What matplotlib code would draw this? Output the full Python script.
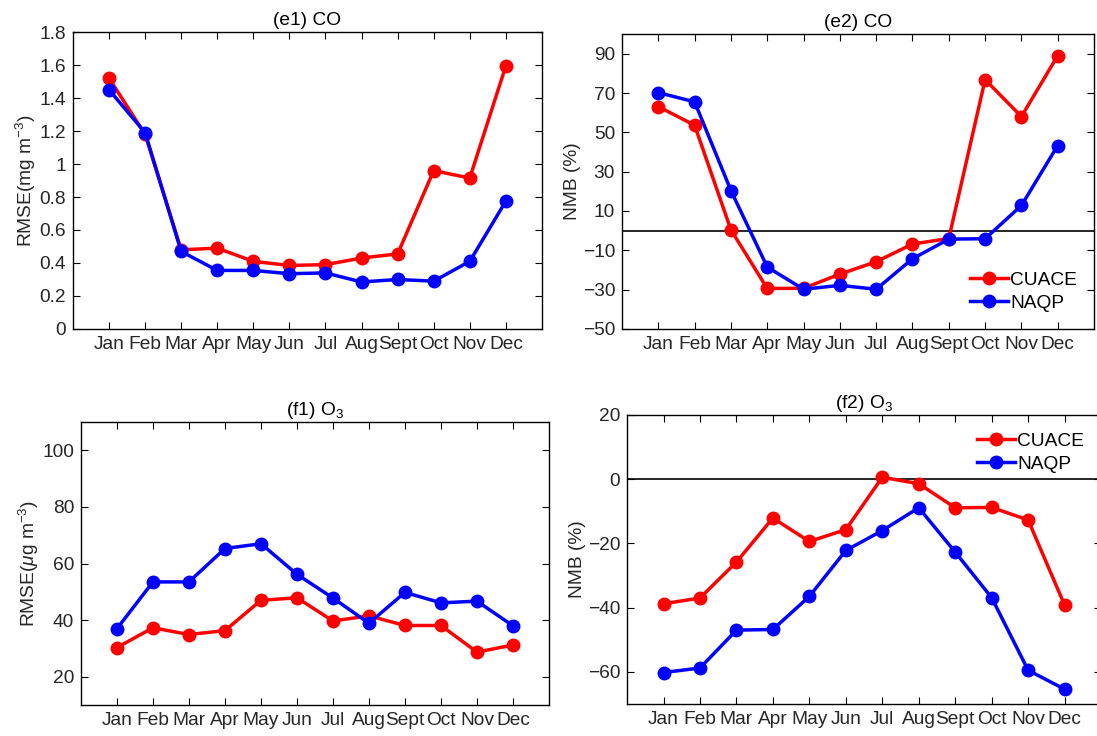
import numpy as np
import matplotlib
matplotlib.use("Agg")
import matplotlib.pyplot as plt

plt.rcParams["font.family"] = ["Liberation Sans", "DejaVu Sans"]
plt.rcParams["mathtext.fontset"] = "custom"
plt.rcParams["mathtext.rm"] = "Liberation Sans"
plt.rcParams["mathtext.it"] = "Liberation Sans:italic"

months = ["Jan", "Feb", "Mar", "Apr", "May", "Jun", "Jul", "Aug", "Sept", "Oct", "Nov", "Dec"]

# (e1) CO RMSE
co_rmse_cuace = [1.52, 1.18, 0.48, 0.49, 0.41, 0.385, 0.39, 0.43, 0.455, 0.96, 0.915, 1.595]
co_rmse_naqp = [1.45, 1.19, 0.47, 0.355, 0.355, 0.335, 0.34, 0.285, 0.30, 0.29, 0.41, 0.775]

# (e2) CO NMB
co_nmb_cuace = [63.1, 53.6, 0.4, -29.4, -29.3, -22.1, -15.8, -6.8, -4.0, 76.8, 58.0, 89.0]
co_nmb_naqp = [70.2, 65.5, 20.4, -18.5, -29.8, -27.8, -29.8, -14.3, -4.3, -4.1, 12.8, 43.3]

# (f1) O3 RMSE
o3_rmse_cuace = [30.3, 37.3, 34.9, 36.3, 47.0, 47.9, 39.7, 41.5, 38.1, 38.1, 28.7, 31.2]
o3_rmse_naqp = [37.0, 53.5, 53.5, 65.3, 67.0, 56.2, 47.8, 38.9, 49.8, 46.1, 46.7, 38.0]

# (f2) O3 NMB
o3_nmb_cuace = [-38.8, -37.0, -25.8, -12.1, -19.4, -15.7, 0.6, -1.4, -8.9, -8.8, -12.7, -39.2]
o3_nmb_naqp = [-60.2, -58.8, -47.0, -46.8, -36.5, -22.2, -16.0, -8.9, -22.7, -36.9, -59.5, -65.4]

x = np.arange(1, 13)
fs = 13.8
txt = "#262626"

fig = plt.figure(figsize=(10.97, 7.36), dpi=100)
ax_e1 = fig.add_axes([0.0665, 0.553, 0.4275, 0.4035])
ax_e2 = fig.add_axes([0.567, 0.553, 0.4303, 0.4008])
ax_f1 = fig.add_axes([0.0738, 0.0421, 0.4266, 0.3845])
ax_f2 = fig.add_axes([0.5716, 0.0435, 0.4321, 0.3927])


def draw(ax, red, blue, title, ylabel, ylim, yticks, zero=False, legend=None):
    ax.plot(x, red, color="red", marker="o", markersize=9, linewidth=2.5, label="CUACE")
    ax.plot(x, blue, color="blue", marker="o", markersize=9, linewidth=2.5, label="NAQP")
    if zero:
        ax.axhline(0, color="black", linewidth=1.2, zorder=0)
    ax.set_xlim(0, 13)
    ax.set_ylim(*ylim)
    ax.set_xticks(x)
    ax.set_xticklabels(months)
    ax.set_yticks(yticks)
    ax.tick_params(direction="in", top=True, right=True, length=5, width=0.8,
                   labelsize=fs, labelcolor=txt, pad=5)
    for s in ax.spines.values():
        s.set_linewidth(1.0)
    ax.set_title(title, fontsize=fs, color="black", pad=5)
    ax.set_ylabel(ylabel, fontsize=fs, color=txt, labelpad=1)
    if legend:
        ax.legend(loc=legend, frameon=False, fontsize=fs, handlelength=2.0,
                  handletextpad=0.1, labelspacing=0.3, borderaxespad=0.5)


draw(ax_e1, co_rmse_cuace, co_rmse_naqp, "(e1) CO", "RMSE(mg m$^{-3}$)",
     (0, 1.8), [0, 0.2, 0.4, 0.6, 0.8, 1, 1.2, 1.4, 1.6, 1.8])
ax_e1.set_yticklabels(["0", "0.2", "0.4", "0.6", "0.8", "1", "1.2", "1.4", "1.6", "1.8"])
draw(ax_e2, co_nmb_cuace, co_nmb_naqp, "(e2) CO", "NMB (%)",
     (-50, 100), [-50, -30, -10, 10, 30, 50, 70, 90], zero=True, legend="lower right")
draw(ax_f1, o3_rmse_cuace, o3_rmse_naqp, "(f1) O$_3$", "RMSE($\\mu$g m$^{-3}$)",
     (10, 110), [20, 40, 60, 80, 100])
draw(ax_f2, o3_nmb_cuace, o3_nmb_naqp, "(f2) O$_3$", "NMB (%)",
     (-70, 20), [-60, -40, -20, 0, 20], zero=True, legend="upper right")

fig.savefig("out.png", dpi=100)
